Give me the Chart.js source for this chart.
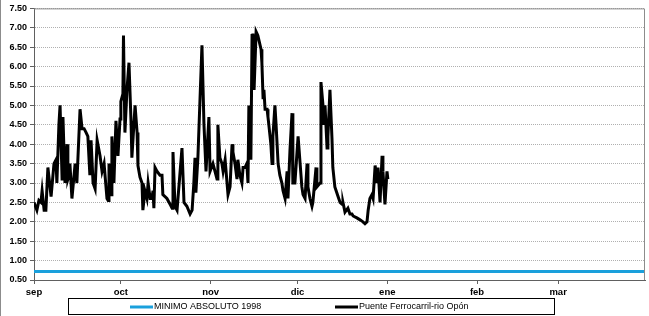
<!DOCTYPE html>
<html>
<head>
<meta charset="utf-8">
<script src="https://cdn.jsdelivr.net/npm/chart.js@4"></script>
<style>
  html, body { margin: 0; padding: 0; background: #fff; }
  #wrap { width: 649px; height: 316px; position: relative; }
</style>
</head>
<body>
<div id="wrap"><canvas id="chart" width="649" height="316"></canvas></div>
<script>
// Month labels and the day (from 1 Sep) each month starts on
const meses = ['sep', 'oct', 'nov', 'dic', 'ene', 'feb', 'mar'];
const inicioMes = [0, 30, 61, 91, 122, 153, 181];
const diaFinal = 211;

// Minimum level reference
const minimoAbsoluto = 0.72;

// Level readings: day since 1 Sep and level
const dias = [
    0, 1.0, 1.7, 2.4, 2.8, 3.5, 4.1, 4.8, 5.9, 6.9, 7.6, 7.9, 8.6, 9.0, 9.7, 10.0, 10.7, 11.4, 11.7, 12.1,
    12.4, 13.1, 14.2, 14.8, 15.9, 16.6, 17.3, 18.0, 18.6, 19.3, 19.7, 20.4, 21.1, 21.8, 22.8, 23.5, 24.2, 25.2, 25.6, 25.9,
    26.6, 26.9, 27.6, 28.3, 29.0, 29.7, 30.0, 30.7, 30.9, 31.4, 32.1, 32.8, 33.5, 33.8, 34.9, 35.6, 35.9, 36.6, 37.3, 37.6,
    38.3, 39.0, 39.4, 40.1, 40.7, 41.1, 41.4, 41.8, 42.5, 43.5, 44.2, 44.5, 45.9, 47.0, 47.7, 48.0, 48.7, 49.4, 51.1, 51.8,
    52.8, 53.9, 54.6, 55.2, 55.6, 55.9, 56.6, 58.0, 58.7, 59.4, 59.7, 60.4, 60.8, 61.8, 62.5, 63.2, 63.5, 64.2, 64.9, 65.3,
    66.0, 67.0, 67.7, 68.4, 68.7, 69.4, 70.1, 70.4, 71.1, 71.8, 72.2, 72.9, 73.5, 73.9, 74.2, 74.9, 75.3, 75.6, 76.0, 76.7,
    77.3, 78.4, 78.7, 79.1, 79.4, 79.8, 80.5, 80.8, 81.1, 81.8, 82.2, 82.5, 83.2, 83.6, 84.3, 84.9, 85.6, 86.0, 86.7, 87.4,
    87.7, 88.4, 89.1, 89.4, 90.1, 91.2, 91.9, 92.5, 92.9, 93.6, 94.3, 94.6, 95.3, 96.0, 96.3, 97.4, 97.7, 98.8, 99.1, 99.8,
    100.1, 100.5, 101.2, 101.5, 102.2, 102.9, 103.2, 103.9, 105.0, 105.7, 106.4, 106.7, 107.4, 108.4, 109.1, 109.8, 110.2, 111.5, 112.6, 113.6,
    114.3, 115.0, 115.4, 116.0, 116.7, 117.1, 117.8, 118.5, 118.8, 119.5, 120.2, 120.5, 121.2, 121.9, 122.2
];
const nivel = [
    2.5, 2.3, 2.55, 2.5, 2.8, 2.3, 2.3, 3.4, 2.65, 3.5, 3.6, 3.0, 4.5, 5.0, 3.1, 4.7, 3.0, 4.0, 3.1, 3.2,
    3.5, 2.6, 3.5, 3.0, 4.9, 4.4, 4.4, 4.3, 4.2, 3.2, 4.1, 3.0, 2.85, 4.1, 3.7, 3.3, 3.5, 2.6, 2.55, 3.5,
    2.7, 4.2, 3.0, 4.6, 3.7, 4.65, 5.1, 5.3, 6.8, 4.3, 5.4, 6.1, 4.6, 3.65, 5.0, 4.3, 3.45, 3.15, 3.0, 2.3,
    2.8, 2.6, 3.0, 2.6, 2.6, 2.8, 2.35, 3.4, 3.3, 3.2, 3.2, 2.7, 2.6, 2.45, 2.35, 3.8, 2.4, 2.3, 3.9, 2.5,
    2.4, 2.2, 2.3, 3.0, 3.65, 2.75, 3.65, 6.55, 4.5, 3.3, 3.3, 4.7, 3.3, 3.5, 3.3, 3.1, 4.5, 3.65, 3.5, 3.3,
    3.6, 2.7, 2.9, 4.0, 3.8, 3.5, 3.1, 3.6, 3.2, 3.0, 3.4, 3.4, 3.5, 3.0, 5.0, 3.6, 6.8, 6.85, 5.4, 6.9,
    6.8, 6.45, 6.1, 5.2, 5.4, 4.9, 4.9, 4.7, 4.5, 4.0, 3.5, 4.2, 5.0, 4.5, 3.5, 3.2, 3.0, 2.8, 2.6, 3.3,
    2.6, 3.85, 4.8, 3.0, 3.0, 4.2, 3.5, 2.9, 2.7, 2.6, 3.5, 2.9, 2.6, 2.4, 2.5, 3.4, 2.9, 3.0, 5.6, 5.0,
    4.5, 5.0, 3.9, 4.2, 5.4, 4.15, 3.4, 2.9, 2.65, 2.5, 2.45, 2.5, 2.25, 2.35, 2.2, 2.2, 2.15, 2.1, 2.05, 2.0,
    1.95, 2.0, 2.3, 2.6, 2.7, 2.6, 3.45, 3.0, 3.4, 2.5, 3.7, 3.3, 2.45, 3.3, 3.1
];

const FONT = "Arial, 'Liberation Sans', sans-serif";

// Frame lines (plot area top/right, outer left edge) and the boxed legend
const framePlugin = {
    id: 'frame',
    afterDraw(chart) {
        const ctx = chart.ctx;
        const a = chart.chartArea;
        ctx.save();
        ctx.strokeStyle = '#8c8c8c';
        ctx.lineWidth = 1;
        ctx.beginPath();
        ctx.moveTo(a.left, a.top + 0.5);
        ctx.lineTo(a.right - 0.5, a.top + 0.5);
        ctx.lineTo(a.right - 0.5, a.bottom);
        ctx.stroke();
        ctx.beginPath();
        ctx.moveTo(0.5, 0);
        ctx.lineTo(0.5, chart.height);
        ctx.stroke();

        // legend
        ctx.strokeStyle = '#000';
        ctx.strokeRect(68.5, 298.5, 486, 16);
        const slots = [130, 335];
        chart.data.datasets.forEach((ds, i) => {
            const x = slots[i], y = 307;
            ctx.strokeStyle = ds.borderColor;
            ctx.lineWidth = 3;
            ctx.beginPath();
            ctx.moveTo(x, y);
            ctx.lineTo(x + 23, y);
            ctx.stroke();
            ctx.fillStyle = '#000';
            ctx.font = '9px ' + FONT;
            ctx.textBaseline = 'middle';
            ctx.fillText(ds.label, x + 24, y);
        });
        ctx.restore();
    }
};

const ctx = document.getElementById('chart').getContext('2d');
new Chart(ctx, {
    type: 'line',
    data: {
        datasets: [
            {
                label: 'MINIMO ABSOLUTO 1998',
                data: [{ x: 0, y: minimoAbsoluto }, { x: diaFinal, y: minimoAbsoluto }],
                borderColor: '#1aa0dc',
                backgroundColor: '#1aa0dc',
                borderWidth: 3,
                pointRadius: 0
            },
            {
                label: 'Puente Ferrocarril-rio Opón',
                data: dias.map((d, i) => ({ x: d, y: nivel[i] })),
                borderColor: '#000',
                backgroundColor: '#000',
                borderWidth: 3,
                pointRadius: 0,
                tension: 0
            }
        ]
    },
    options: {
        responsive: false,
        animation: false,
        layout: { padding: { left: 0, right: 4, top: 5, bottom: 18 } },
        plugins: {
            legend: { display: false },
            tooltip: { enabled: false }
        },
        scales: {
            x: {
                type: 'linear',
                min: 0,
                max: diaFinal,
                afterBuildTicks: (scale) => {
                    scale.ticks = inicioMes.map(v => ({ value: v }));
                },
                afterFit: (scale) => { scale.height = 18; },
                ticks: {
                    autoSkip: false,
                    maxRotation: 0,
                    padding: 3,
                    color: '#000',
                    font: { family: FONT, size: 9.5, weight: 'bold' },
                    callback: (v) => meses[inicioMes.indexOf(v)]
                },
                grid: {
                    drawOnChartArea: false,
                    drawTicks: true,
                    tickLength: 4,
                    color: '#606060'
                },
                border: { color: '#606060', width: 1 }
            },
            y: {
                min: 0.5,
                max: 7.5,
                afterFit: (scale) => { scale.width = 34; },
                ticks: {
                    stepSize: 0.5,
                    padding: 3,
                    color: '#000',
                    font: { family: FONT, size: 9, weight: 'bold' },
                    callback: (v) => v.toFixed(2)
                },
                grid: {
                    color: '#b0b0b0',
                    tickColor: '#606060',
                    tickLength: 4,
                    tickBorderDash: []
                },
                border: { color: '#606060', width: 1, dash: [1, 1] }
            }
        }
    },
    plugins: [framePlugin]
});
</script>
</body>
</html>
